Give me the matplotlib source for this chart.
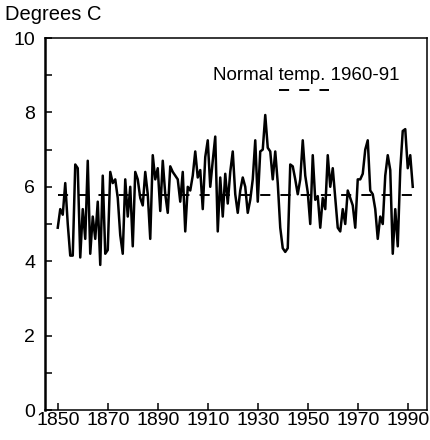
import matplotlib
matplotlib.use("Agg")
import matplotlib.pyplot as plt
from matplotlib.ticker import MultipleLocator

plt.rcParams['font.family'] = ['Liberation Sans', 'DejaVu Sans']

years = list(range(1850, 1993))
temps = [
    # 1850s
    4.9, 5.4, 5.25, 6.1, 5.0, 4.15, 4.15, 6.6, 6.5, 4.1,
    # 1860s
    5.4, 4.6, 6.7, 4.2, 5.2, 4.6, 5.6, 3.9, 6.3, 4.2,
    # 1870s
    4.3, 6.4, 6.1, 6.2, 5.7, 4.7, 4.2, 6.2, 5.2, 6.0,
    # 1880s
    4.4, 6.4, 6.2, 5.7, 5.5, 6.4, 5.8, 4.6, 6.85, 6.2,
    # 1890s
    6.5, 5.35, 6.7, 5.8, 5.3, 6.55, 6.4, 6.3, 6.2, 5.6,
    # 1900s
    6.4, 4.8, 6.0, 5.9, 6.3, 6.95, 6.25, 6.45, 5.4, 6.8,
    # 1910s
    7.25, 6.0, 6.7, 7.35, 4.8, 6.25, 5.2, 6.35, 5.55, 6.4,
    # 1920s
    6.95, 5.8, 5.3, 5.9, 6.25, 6.0, 5.3, 5.65, 6.2, 7.25,
    # 1930s
    5.6, 6.95, 7.0, 7.93, 7.05, 6.95, 6.2, 6.95, 6.1, 4.9,
    # 1940s
    4.35, 4.25, 4.35, 6.6, 6.55, 6.2, 5.8, 6.2, 7.25, 6.3,
    # 1950s
    5.85, 5.0, 6.85, 5.65, 5.75, 4.9, 5.7, 5.4, 6.85, 6.0,
    # 1960s
    6.5, 5.7, 4.9, 4.8, 5.4, 5.0, 5.9, 5.7, 5.5, 4.9,
    # 1970s
    6.2, 6.2, 6.35, 7.0, 7.25, 5.9, 5.8, 5.4, 4.6, 5.2,
    # 1980s
    5.0, 6.3, 6.85, 6.45, 4.2, 5.4, 4.4, 6.45, 7.5, 7.55,
    # 1990s
    6.5, 6.85, 6.0,
]
normal_temp = 5.78
normal_label = 'Normal temp. 1960-91'
x_ticks = [1850, 1870, 1890, 1910, 1930, 1950, 1970, 1990]
y_ticks = [0, 2, 4, 6, 8, 10]

W, H = 431, 440
fig = plt.figure(figsize=(W / 100, H / 100), dpi=100)
L, R, T, B = 45, 427, 38, 410
ax = fig.add_axes([L / W, (H - B) / H, (R - L) / W, (B - T) / H])

ax.plot(years, temps, color='black', lw=1.8, solid_joinstyle='round')
ax.plot([years[0], years[-1]], [normal_temp, normal_temp], color='black',
        lw=1.4, dashes=(5.2, 5.2))

ax.set_xlim(1844.9, 1997.7)
ax.set_ylim(0, 10)
ax.set_xticks(x_ticks)
ax.set_yticks(y_ticks)
ax.yaxis.set_minor_locator(MultipleLocator(1))
ax.tick_params(which='both', direction='in', length=5, width=1.1, labelsize=14,
               top=False, right=False)
ax.tick_params(axis='x', pad=1.5)
ax.tick_params(axis='y', pad=7)
for side, sp in ax.spines.items():
    sp.set_linewidth(1.1)
ax.spines['left'].set_linewidth(1.8)

fig.text(5 / W, 1 - 20 / H, 'Degrees C', fontsize=14.5, va='baseline')
ax.text((213 - L) / (R - L), (B - 80) / (B - T), normal_label,
        transform=ax.transAxes, fontsize=13.5, va='baseline')
ax.plot([(279 - L) / (R - L), (329 - L) / (R - L)],
        [(B - 90) / (B - T)] * 2, transform=ax.transAxes,
        color='black', lw=1.4, dashes=(5.2, 5.2))

fig.savefig('out.png', dpi=100)
